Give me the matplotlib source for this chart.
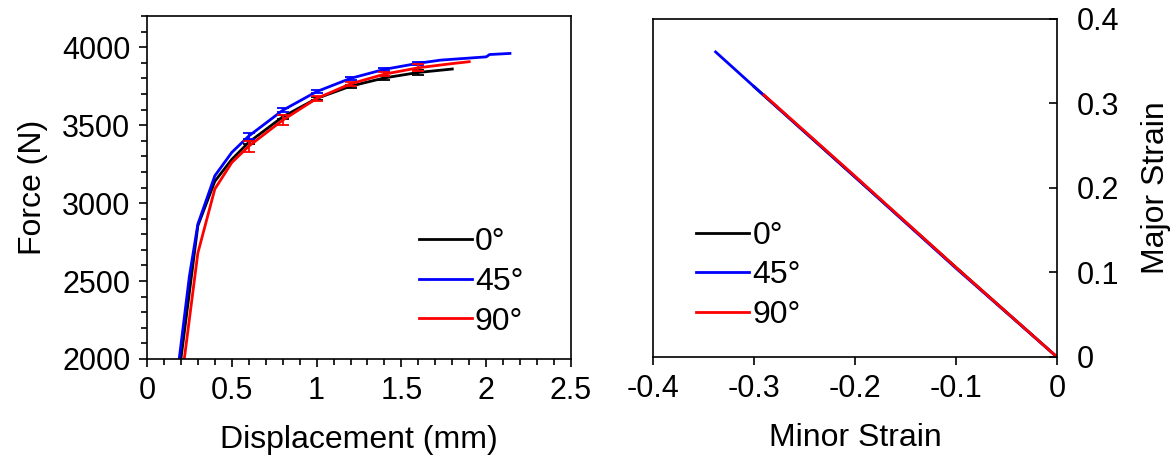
import numpy as np
import matplotlib
matplotlib.use("Agg")
import matplotlib.pyplot as plt
from matplotlib.ticker import MultipleLocator

plt.rcParams['font.family'] = ['Liberation Sans', 'DejaVu Sans']

## force - displacement data ##
labels = ['0°', '45°', '90°']
colors = ['black', 'blue', 'red']

disp_0 = [0.20, 0.30, 0.40, 0.50, 0.60, 0.80, 1.00, 1.20, 1.40, 1.60, 1.80]
force_0 = [2000, 2855, 3140, 3280, 3390, 3553, 3671, 3750, 3803, 3838, 3860]

disp_45 = [0.19, 0.25, 0.30, 0.40, 0.50, 0.60, 0.80, 1.00, 1.20, 1.40, 1.60, 1.73, 2.00, 2.02, 2.14]
force_45 = [2000, 2530, 2865, 3175, 3325, 3430, 3595, 3715, 3800, 3858, 3897, 3917, 3938, 3953, 3960]

disp_90 = [0.22, 0.30, 0.40, 0.50, 0.60, 0.80, 1.00, 1.20, 1.40, 1.60, 1.80, 1.90]
force_90 = [2000, 2680, 3090, 3260, 3365, 3532, 3671, 3765, 3827, 3868, 3895, 3907]

# error bars
err_x = [0.6, 0.8, 1.0, 1.2, 1.4, 1.6]
err_0 = [12, 12, 10, 10, 12, 18]
err_45 = [18, 13, 10, 8, 8, 8]
err_90 = [35, 32, 18, 12, 12, 22]

## strain path data ##
minor_0 = [-0.30, -0.2, -0.1, 0.0]
major_0 = [0.320, 0.213, 0.106, 0.0]
minor_45 = [-0.338, -0.3, -0.2, -0.1, 0.0]
major_45 = [0.361, 0.320, 0.213, 0.105, 0.0]
minor_90 = [-0.29, -0.2, -0.1, 0.0]
major_90 = [0.310, 0.214, 0.106, 0.0]

fig = plt.figure(figsize=(11.73, 4.55), dpi=100)
ax1 = fig.add_axes([0.1253, 0.211, 0.3615, 0.7538])
ax2 = fig.add_axes([0.5567, 0.2154, 0.3444, 0.7429])

lw = 2.0
tick_fs = 22
lab_fs = 23

series = [(disp_0, force_0, err_0), (disp_45, force_45, err_45), (disp_90, force_90, err_90)]
for (xd, yd, ed), lab, col in zip(series, labels, colors):
    ax1.plot(xd, yd, color=col, lw=lw, label=lab)
    ey = np.interp(err_x, xd, yd)
    ax1.errorbar(err_x, ey, yerr=ed, fmt='none', ecolor=col, elinewidth=1.3, capsize=4, capthick=1.3)

ax1.set_xlim(0, 2.5)
ax1.set_ylim(2000, 4200)
ax1.xaxis.set_minor_locator(MultipleLocator(0.1))
ax1.yaxis.set_minor_locator(MultipleLocator(100))
ax1.set_yticks([2000, 2500, 3000, 3500, 4000])
ax1.set_xticks([0, 0.5, 1, 1.5, 2, 2.5])
ax1.set_xticklabels(['0', '0.5', '1', '1.5', '2', '2.5'])
ax1.tick_params(which='both', direction='out', top=False, right=False, labelsize=tick_fs, width=1.2)
ax1.tick_params(which='major', length=6, pad=6)
ax1.tick_params(which='minor', length=4)
ax1.set_xlabel('Displacement (mm)', fontsize=lab_fs, labelpad=14)
ax1.set_ylabel('Force (N)', fontsize=lab_fs, labelpad=10)
ax1.legend(loc='lower right', bbox_to_anchor=(0.94, 0.0), frameon=False, fontsize=lab_fs,
           handlelength=1.65, handletextpad=0.1, labelspacing=0.3, borderaxespad=0.3)

for xd, yd, lab, col in zip([minor_0, minor_45, minor_90], [major_0, major_45, major_90], labels, colors):
    ax2.plot(xd, yd, color=col, lw=lw, label=lab)

ax2.set_xlim(-0.4, 0)
ax2.set_ylim(0, 0.4)
ax2.set_xticks([-0.4, -0.3, -0.2, -0.1, 0])
ax2.set_xticklabels(['-0.4', '-0.3', '-0.2', '-0.1', '0'])
ax2.set_yticks([0, 0.1, 0.2, 0.3, 0.4])
ax2.set_yticklabels(['0', '0.1', '0.2', '0.3', '0.4'])
ax2.yaxis.tick_right()
ax2.yaxis.set_label_position('right')
ax2.tick_params(axis='x', direction='out', length=6, width=1.2, labelsize=tick_fs, pad=6)
ax2.tick_params(axis='y', direction='in', length=6, width=1.2, labelsize=tick_fs, pad=14)
ax2.set_xlabel('Minor Strain', fontsize=lab_fs, labelpad=14)
ax2.set_ylabel('Major Strain', fontsize=lab_fs, labelpad=16)
ax2.legend(loc='lower left', bbox_to_anchor=(0.052, 0.014), frameon=False, fontsize=lab_fs,
           handlelength=1.65, handletextpad=0.1, labelspacing=0.3, borderaxespad=0.3)

for ax in (ax1, ax2):
    for s in ax.spines.values():
        s.set_linewidth(1.2)

fig.savefig("out.png", dpi=100)
